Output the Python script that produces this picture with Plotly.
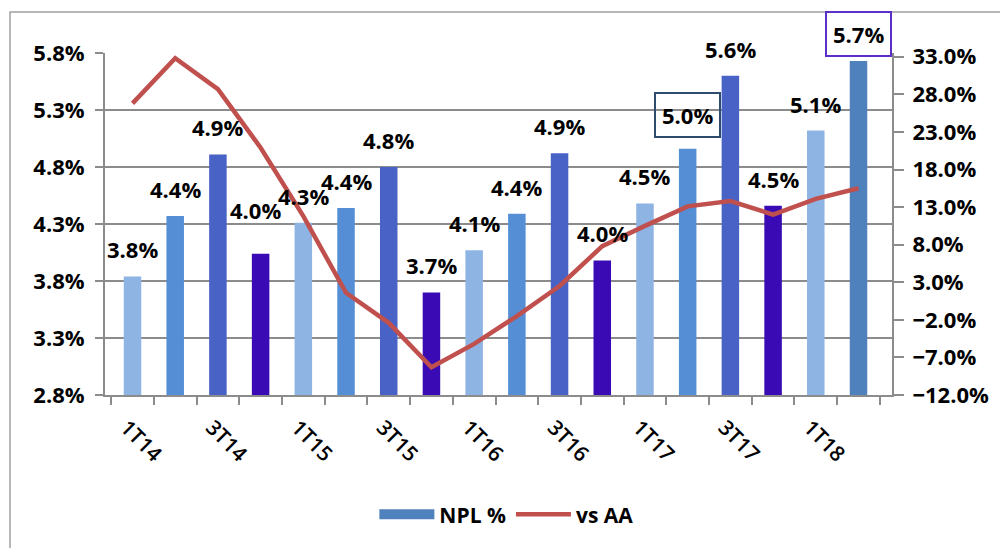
import plotly.graph_objects as go

# ---- data ----
quarters = ["1T14", "2T14", "3T14", "4T14", "1T15", "2T15", "3T15", "4T15",
            "1T16", "2T16", "3T16", "4T16", "1T17", "2T17", "3T17", "4T17",
            "1T18", "2T18"]
npl_pct = [3.84, 4.37, 4.91, 4.04, 4.31, 4.44, 4.80, 3.70, 4.07,
           4.39, 4.92, 3.98, 4.48, 4.96, 5.60, 4.46, 5.12, 5.73]
vs_aa = [26.8, 32.8, 28.7, 20.9, 11.8, 1.6, -2.4, -8.3, -5.2,
         -1.5, 2.5, 7.8, 10.5, 13.1, 13.8, 12.0, 14.1, 15.5]
tick_labels = [q if i % 2 == 0 else "" for i, q in enumerate(quarters)]
left_ticks = [2.8, 3.3, 3.8, 4.3, 4.8, 5.3, 5.8]
left_tick_text = [f"{v:.1f}%" for v in left_ticks]

# ---- styles ----
quarter_colors = {"1": "#8eb4e3", "2": "#558ed5", "3": "#4862c6", "4": "#3a0bb5"}
bar_colors = [quarter_colors[q[0]] for q in quarters]
bar_colors[-1] = "#4f81bd"
label_shift = [27] * len(quarters)
label_shift[3] = 44
label_shift[13] = 34
label_xshift = [0] * len(quarters)
label_xshift[3] = -5
label_box = [None] * len(quarters)
label_box[13] = "#2f4b6e"
label_box[17] = "#5b2fc8"

FONT = "Open Sans"
GRID = "#8c8c8c"
BOLD = dict(family=FONT, size=22, color="black", weight=700)

fig = go.Figure()
fig.add_trace(go.Bar(x=quarters, y=npl_pct, marker=dict(color=bar_colors, line_width=0),
                     showlegend=False, yaxis="y", width=0.41))
fig.add_trace(go.Scatter(x=[None], y=[None], mode="lines", name="NPL %",
                         line=dict(color="#4f81bd", width=14)))
fig.add_trace(go.Scatter(x=quarters, y=vs_aa, mode="lines", name="vs AA",
                         line=dict(color="#c0504d", width=4.5), yaxis="y2"))

for i, (q, v) in enumerate(zip(quarters, npl_pct)):
    ann = dict(x=q, y=v, xref="x", yref="y", text=f"<b>{v:.1f}%</b>", showarrow=False,
               xanchor="center", yanchor="middle", yshift=label_shift[i],
               xshift=label_xshift[i], font=BOLD)
    if label_box[i]:
        ann.update(bordercolor=label_box[i], borderwidth=2, borderpad=6)
    fig.add_annotation(**ann)

fig.update_layout(
    width=1000, height=548,
    margin=dict(l=105, r=108, t=53, b=153),
    paper_bgcolor="white", plot_bgcolor="white",
    bargap=0.59,
    font=dict(family=FONT, color="black"),
    xaxis=dict(type="category", tickvals=quarters, ticktext=tick_labels,
               tickson="boundaries", ticks="outside", ticklen=8, tickwidth=2, tickcolor=GRID,
               tickangle=45, tickfont=dict(family=FONT, size=21, color="black", weight=600),
               showline=True, linecolor=GRID, linewidth=2, showgrid=False,
               ticklabelstandoff=10, ticklabelshift=-6, automargin=False),
    yaxis=dict(range=[2.8, 5.8], tickvals=left_ticks, ticktext=left_tick_text,
               ticks="outside", ticklen=8, tickwidth=2, tickcolor=GRID,
               showline=True, linecolor=GRID, linewidth=2,
               showgrid=True, gridcolor=GRID, gridwidth=2, zeroline=False,
               tickfont=BOLD, automargin=False, ticklabelstandoff=6),
    yaxis2=dict(range=[-12, 33.5], tick0=-12, dtick=5, tickformat=".1f", ticksuffix="%",
                overlaying="y", side="right", ticks="outside", ticklen=10, tickwidth=2,
                tickcolor=GRID, showline=True, linecolor=GRID, linewidth=2,
                showgrid=False, zeroline=False, ticklabelstandoff=4,
                tickfont=BOLD, automargin=False),
    legend=dict(orientation="h", x=0.51, xanchor="center", y=-0.35, yanchor="middle",
                itemwidth=55, font=dict(family=FONT, size=21, color="black", weight=700),
                bgcolor="rgba(0,0,0,0)"),
)

# chart-area border (top and left edges visible in the reference)
fig.add_shape(type="path", xref="paper", yref="paper",
              path="M -0.1207,-0.6 L -0.1207,1.1199 L 1.2,1.1199",
              line=dict(color="#a0a0a0", width=1.5))

fig.write_html("out.html", config={"displayModeBar": False},
               post_script="document.body.style.margin='0';document.body.style.overflow='hidden';")
